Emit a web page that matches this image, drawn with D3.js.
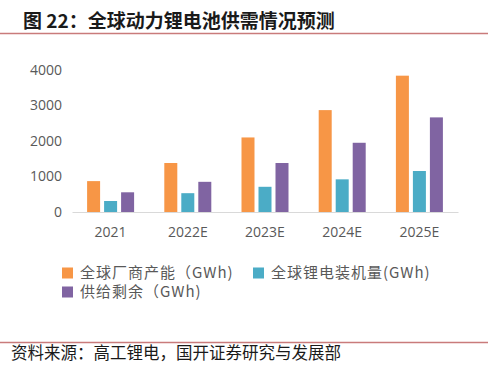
<html>
<script src='https://d3js.org/d3.v7.min.js'></script>
<style>
  body { margin: 0; background: white; }
  text { font-family: "Open Sans", "Noto Sans CJK SC", sans-serif; }
  .cjk { font-family: "Noto Sans CJK SC", sans-serif; }
</style>
<body>
<svg id="chart" width="500" height="365"></svg>
<script>
// data
const years = ["2021", "2022E", "2023E", "2024E", "2025E"];
const capacity = [870, 1380, 2100, 2870, 3840];   // 全球厂商产能
const installed = [310, 530, 710, 920, 1155];     // 全球锂电装机量
const surplus = [555, 850, 1380, 1950, 2665];     // 供给剩余
const yTicks = [0, 1000, 2000, 3000, 4000];
const seriesNames = ["全球厂商产能（GWh)", "全球锂电装机量(GWh)", "供给剩余（GWh)"];
const colors = ["#F79646", "#4BACC6", "#8064A2"];

const svg = d3.select("#chart");

// title + rule
svg.append("text").attr("class", "cjk")
  .attr("x", 23).attr("y", 28)
  .attr("font-size", 19).attr("font-weight", "bold").attr("fill", "#1a1a1a")
  .text("图 22：全球动力锂电池供需情况预测");
svg.append("line").attr("x1", 0).attr("x2", 488).attr("y1", 33.5).attr("y2", 33.5)
  .attr("stroke", "#c97b7b").attr("stroke-width", 1.5);

const x = d3.scaleBand().domain(years).range([72, 458]);
const y = d3.scaleLinear().domain([0, 4000]).range([212, 70]);

const barW = 13, gap = 4;
const series = [capacity, installed, surplus];

// y axis labels (no line)
const yAxis = svg.append("g").attr("transform", "translate(62,0)")
  .call(d3.axisLeft(y).tickValues(yTicks).tickFormat(d3.format("d")).tickSize(0).tickPadding(0));
yAxis.select(".domain").remove();
yAxis.selectAll("text").attr("font-size", 14).attr("fill", "#595959")
  .style("font-family", "'Open Sans', sans-serif");

// bars
series.forEach(function(vals, si) {
  svg.append("g").selectAll("rect")
    .data(vals)
    .enter()
    .append("rect")
    .attr("x", function(d, i) {
      return x(years[i]) + x.bandwidth() / 2 - (3 * barW + 2 * gap) / 2 + si * (barW + gap);
    })
    .attr("y", function(d) { return y(d); })
    .attr("width", barW)
    .attr("height", function(d) { return y(0) - y(d); })
    .attr("fill", colors[si]);
});

// x axis
const xAxis = svg.append("g").attr("transform", "translate(0,212)")
  .call(d3.axisBottom(x).tickSize(0).tickPadding(15));
xAxis.select(".domain").attr("stroke", "#d9d9d9").attr("stroke-width", 1.2);
xAxis.selectAll("text").attr("font-size", 14).attr("fill", "#595959")
  .style("font-family", "'Open Sans', sans-serif");

// legend
const legendPos = [[62, 273], [253, 273], [62, 292]];
seriesNames.forEach(function(name, i) {
  const g = svg.append("g").attr("transform", "translate(" + legendPos[i][0] + "," + legendPos[i][1] + ")");
  g.append("rect").attr("x", 0).attr("y", -5.5).attr("width", 11).attr("height", 11).attr("fill", colors[i]);
  g.append("text").attr("class", "cjk").attr("x", 18).attr("y", 0).attr("dy", "0.35em")
    .attr("font-size", 15).attr("letter-spacing", 1).attr("fill", "#595959").text(name);
});

// source
svg.append("line").attr("x1", 0).attr("x2", 488).attr("y1", 342.5).attr("y2", 342.5)
  .attr("stroke", "#c97b7b").attr("stroke-width", 1.5);
svg.append("text").attr("class", "cjk")
  .attr("x", 11).attr("y", 359)
  .attr("font-size", 16.5).attr("fill", "#1a1a1a")
  .text("资料来源：高工锂电，国开证券研究与发展部");
</script>
</body>
</html>
